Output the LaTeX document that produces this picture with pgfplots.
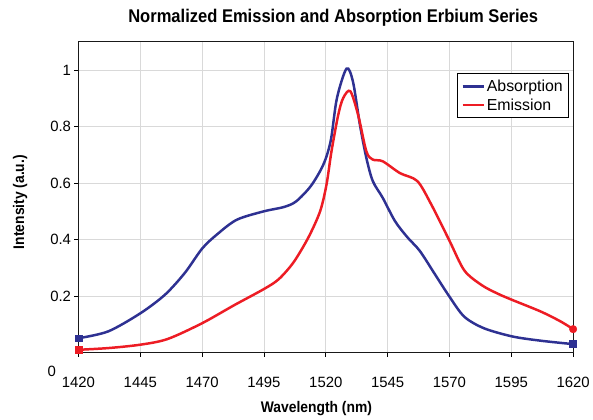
\documentclass[border=0pt]{standalone}
\usepackage{pgfplots}
\pgfplotsset{compat=1.18}
\usepackage{fontspec}
\setmainfont{Liberation Sans}
\newfontfamily\condfont[FakeStretch=0.9]{Liberation Sans}
\definecolor{absblue}{RGB}{46,49,146}
\definecolor{emired}{RGB}{237,28,36}

\begin{document}
\begin{tikzpicture}
\begin{axis}[
    scale only axis,
    width=498pt, height=313pt,
    xmin=1420, xmax=1620,
    ymin=0, ymax=1.1,
    xtick={1420,1445,1470,1495,1520,1545,1570,1595,1620},
    xticklabels={1420,1445,1470,1495,1520,1545,1570,1595,1620},
    ytick={0.2,0.4,0.6,0.8,1},
    yticklabels={0.2,0.4,0.6,0.8,1},
    tick align=outside, tick pos=left,
    major tick length=4pt,
    grid=major,
    grid style={gray!30, line width=0.9pt},
    axis line style={line width=1.1pt, black!90},
    tick style={line width=0.9pt, black},
    ticklabel style={font=\fontsize{15}{15}\selectfont},
    xticklabel style={yshift=-17pt},
    title={Normalized Emission and Absorption Erbium Series},
    title style={font=\condfont\bfseries\fontsize{18.5}{20}\selectfont,
        at={(axis description cs:0.515,1.058)}, anchor=center},
    xlabel={Wavelength (nm)},
    xlabel style={font=\condfont\bfseries\fontsize{15.5}{17}\selectfont,
        at={(axis description cs:0.481,-0.179)}, anchor=center},
    ylabel={Intensity (a.u.)},
    ylabel style={font=\condfont\bfseries\fontsize{15.5}{17}\selectfont,
        at={(axis description cs:-0.118,0.484)}, anchor=center},
    legend style={at={(0.992,0.898)}, anchor=north east, draw=black,
        line width=0.8pt, font=\fontsize{16}{20}\selectfont,
        inner sep=4pt, row sep=2pt},
    legend cell align=left,
    legend image code/.code={\draw[#1] (0pt,0pt) -- (21pt,0pt);},
    clip=false,
]

% Absorption
\addplot[absblue, line width=2.5pt, smooth] coordinates {
    (1420,0.051) (1432,0.075) (1445,0.139) (1455,0.205) (1463,0.282)
    (1470,0.368) (1476,0.418) (1484,0.470) (1495,0.500) (1503,0.515)
    (1508,0.535) (1514,0.590) (1519,0.665) (1522,0.750) (1524.5,0.900)
    (1528.4,1.005) (1531,0.958) (1533.8,0.806) (1536.4,0.689) (1539,0.607)
    (1543,0.548) (1548,0.465) (1553,0.408) (1558,0.360) (1564,0.279)
    (1570,0.198) (1576,0.127) (1584,0.086) (1595.5,0.057) (1607,0.042)
    (1620,0.030)
};
\addlegendentry{Absorption}

% Emission
\addplot[emired, line width=2.5pt, smooth] coordinates {
    (1420,0.010) (1432,0.016) (1445,0.028) (1456,0.048) (1470,0.104)
    (1483,0.168) (1495,0.225) (1501,0.260) (1507,0.320) (1513,0.408)
    (1517.7,0.500) (1520.3,0.595) (1522.3,0.712) (1525,0.840) (1527,0.900)
    (1529.9,0.925) (1533.1,0.840) (1536.4,0.712) (1539,0.683) (1543,0.677)
    (1550,0.635) (1557,0.607) (1562.6,0.525) (1570,0.396) (1576,0.291)
    (1583,0.239) (1589.4,0.209) (1595.5,0.186) (1607,0.145) (1615,0.110)
    (1620,0.083)
};
\addlegendentry{Emission}

% end markers
\addplot[only marks, mark=square*, mark size=3.5pt, absblue, forget plot]
    coordinates {(1420,0.051) (1620,0.030)};
\addplot[only marks, mark=square*, mark size=3.5pt, emired, forget plot]
    coordinates {(1420,0.010)};
\addplot[only marks, mark=*, mark size=3.8pt, emired, forget plot]
    coordinates {(1620,0.083)};

\node[font=\fontsize{15}{15}\selectfont] at (axis description cs:-0.054,-0.06) {0};

\path (rel axis cs:0,0) ++(-79pt,-67pt) coordinate (bbsw);
\path (rel axis cs:1,1) ++(16pt,42pt) coordinate (bbne);
\path (bbsw) rectangle (bbne);
\end{axis}
\end{tikzpicture}
\end{document}
